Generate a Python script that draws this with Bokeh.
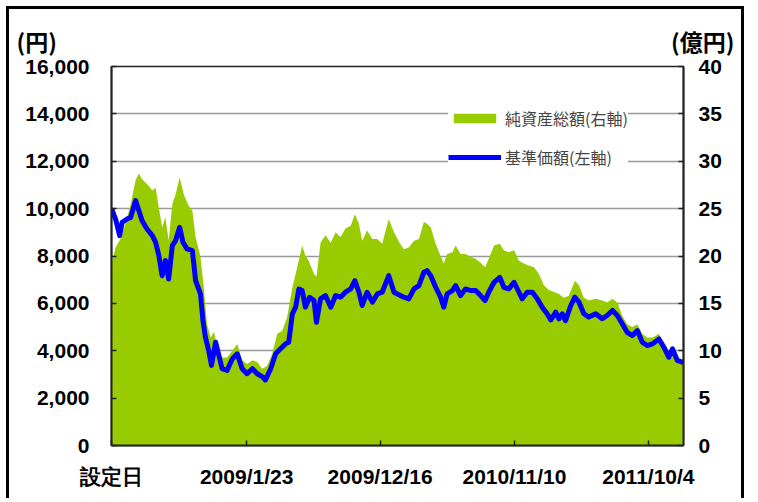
import pandas as pd
from bokeh.plotting import figure
from bokeh.models import (Range1d, LinearAxis, FixedTicker, NumeralTickFormatter,
                          Legend, LegendItem, Title)
from bokeh.embed import file_html
from bokeh.resources import INLINE

# ---------------- data ----------------
launch_date = "2008/2/27"
x_tick_dates = ["2009/1/23", "2009/12/16", "2010/11/10", "2011/10/4"]
launch_label = "設定日"
left_ticks = [0, 2000, 4000, 6000, 8000, 10000, 12000, 14000, 16000]
right_ticks = [0, 5, 10, 15, 20, 25, 30, 35, 40]

# 純資産総額 (億円), days since launch
aum_days = [0, 10, 22, 34, 47, 59, 67, 75, 87, 100, 108, 116, 124, 132, 140, 149, 157, 167, 177, 189,
            198, 206, 218, 226, 234, 243, 251, 259, 271, 283, 296, 308, 320, 332, 345, 357, 369, 381, 394, 406,
            418, 430, 443, 455, 467, 475, 483, 496, 502, 512, 524, 537, 549, 561, 573, 586, 596, 606, 614, 626,
            639, 651, 663, 679, 692, 704, 716, 728, 741, 753, 765, 773, 782, 794, 806, 814, 822, 835, 843, 855,
            867, 880, 892, 904, 915, 924, 937, 951, 961, 973, 986, 998, 1010, 1022, 1035, 1047, 1059, 1071, 1084, 1096,
            1108, 1120, 1135, 1145, 1157, 1169, 1186, 1202, 1214, 1227, 1239, 1251, 1263, 1276, 1288, 1300, 1312, 1325, 1341, 1353,
            1365, 1374, 1386, 1398, 1401]
aum_values = [19.2, 20.9, 21.8, 23.4, 25.5, 28.0, 28.7, 28.1, 27.6, 26.9, 27.2, 25.1, 23.0, 24.1, 21.6, 25.5, 26.5, 28.3, 26.5, 25.3,
              24.8, 22.0, 19.9, 16.7, 12.8, 11.4, 12.0, 10.4, 9.3, 9.3, 10.0, 10.7, 9.0, 8.6, 9.0, 8.8, 8.1, 8.4, 9.7, 11.8,
              12.1, 13.5, 16.7, 18.8, 21.1, 20.0, 19.5, 18.1, 17.8, 21.4, 22.2, 21.4, 22.5, 22.0, 22.9, 23.2, 24.4, 23.4, 21.6, 22.7,
              21.8, 21.8, 21.3, 23.9, 22.5, 21.5, 20.7, 20.9, 21.6, 21.8, 23.6, 23.4, 23.0, 21.3, 20.0, 19.2, 20.2, 20.4, 21.1, 20.2,
              20.2, 19.9, 19.7, 19.3, 18.8, 19.7, 21.1, 21.3, 20.6, 20.4, 20.6, 19.5, 19.2, 19.0, 18.8, 18.1, 16.9, 16.4, 16.2, 16.0,
              15.6, 15.8, 17.4, 16.9, 15.6, 15.3, 15.5, 15.3, 15.1, 15.5, 15.1, 13.7, 12.8, 12.5, 12.8, 11.8, 11.4, 11.4, 11.8, 10.5,
              9.8, 10.0, 9.2, 8.8, 8.7]

# 基準価額 (円), days since launch
nav_days = [0, 10, 20, 26, 38, 47, 59, 67, 75, 87, 100, 108, 116, 124, 132, 140, 149, 157, 167, 175,
            185, 198, 206, 218, 224, 230, 238, 245, 255, 263, 271, 283, 296, 308, 320, 332, 345, 357, 369, 377,
            390, 402, 414, 426, 434, 443, 451, 459, 467, 475, 485, 496, 502, 512, 524, 537, 549, 561, 573, 586,
            596, 606, 614, 626, 639, 651, 663, 679, 692, 704, 716, 728, 741, 753, 765, 773, 782, 794, 806, 814,
            822, 835, 843, 855, 867, 880, 892, 904, 915, 924, 937, 951, 961, 973, 986, 998, 1006, 1018, 1031, 1043,
            1055, 1067, 1076, 1088, 1096, 1104, 1112, 1125, 1135, 1145, 1157, 1169, 1186, 1202, 1214, 1227, 1239, 1251, 1263, 1276,
            1288, 1300, 1312, 1325, 1341, 1353, 1365, 1374, 1386, 1398, 1401]
nav_values = [10000, 9560, 8860, 9420, 9560, 9630, 10340, 9920, 9490, 9140, 8860, 8580, 8020, 7170, 7810, 7030, 8440, 8650, 9210, 8580,
              8300, 8230, 6960, 6400, 5270, 4570, 4010, 3380, 4360, 3800, 3240, 3170, 3660, 3870, 3240, 3030, 3240, 3030, 2910, 2770,
              3240, 3870, 4080, 4290, 4360, 5560, 5840, 6610, 6540, 5840, 6260, 6120, 5200, 6190, 6330, 5840, 6330, 6260, 6470, 6610,
              6960, 6470, 5910, 6470, 6050, 6400, 6470, 7170, 6470, 6360, 6260, 6190, 6610, 6750, 7310, 7380, 7170, 6680, 6260, 5840,
              6400, 6540, 6750, 6330, 6610, 6540, 6540, 6330, 6120, 6470, 6890, 7100, 6680, 6610, 6890, 6470, 6190, 6470, 6470, 6190,
              5840, 5560, 5300, 5630, 5350, 5560, 5270, 5910, 6260, 6050, 5560, 5420, 5560, 5350, 5490, 5700, 5490, 5140, 4780, 4640,
              4850, 4360, 4220, 4290, 4500, 4150, 3730, 4080, 3590, 3520, 3470]

aum_name = "純資産総額(右軸)"
nav_name = "基準価額(左軸)"
left_unit = "(円)"
right_unit = "(億円)"

# ---------------- styles ----------------
GREEN = "#99CC00"
BLUE = "#0000FF"
NUM_FONT = "Liberation Sans"
JP_FONT = "Noto Sans CJK JP"

launch = pd.Timestamp(launch_date)
tick_pos = [0] + [(pd.Timestamp(d) - launch).days for d in x_tick_dates]
tick_lbl = [launch_label] + x_tick_dates

p = figure(width=738, height=492, output_backend="svg", toolbar_location=None,
           x_range=Range1d(0, max(nav_days[-1], aum_days[-1])), y_range=Range1d(0, 16000),
           min_border_left=102, min_border_right=64, min_border_top=57, min_border_bottom=56)
p.styles = {"margin-left": "6px", "margin-top": "6px",
            "border-left": "3px solid black", "border-top": "3px solid black",
            "border-right": "3px solid black"}
p.extra_y_ranges = {"aum": Range1d(0, 40)}
p.background_fill_color = "white"
p.border_fill_color = "white"
p.outline_line_color = "#222222"
p.outline_line_width = 1.5

r_area = p.varea(x=aum_days, y1=[0] * len(aum_days), y2=aum_values, y_range_name="aum",
                 fill_color=GREEN, fill_alpha=1.0)
r_line = p.line(x=nav_days, y=nav_values, line_color=BLUE, line_width=5, line_join="round")

# axes
p.xaxis.ticker = FixedTicker(ticks=tick_pos)
p.xaxis.major_label_overrides = {t: l for t, l in zip(tick_pos, tick_lbl)}
p.yaxis.ticker = FixedTicker(ticks=left_ticks)
p.yaxis.formatter = NumeralTickFormatter(format="0,0")

ra = LinearAxis(y_range_name="aum", ticker=FixedTicker(ticks=right_ticks))
p.add_layout(ra, "right")

for ax in [p.xaxis[0], p.yaxis[0], ra]:
    ax.major_tick_in = 5
    ax.major_tick_out = 0
    ax.minor_tick_in = 0
    ax.minor_tick_out = 0
    ax.axis_line_color = "#222222"
    ax.axis_line_width = 2
    ax.major_tick_line_color = "#222222"
    ax.major_tick_line_width = 1.5
    ax.major_label_text_font = NUM_FONT
    ax.major_label_text_font_style = "bold"
    ax.major_label_text_font_size = "21px"
    ax.major_label_text_color = "black"
p.yaxis[0].major_label_standoff = 22
ra.major_label_standoff = 15
p.xaxis[0].major_label_standoff = 19

p.xgrid.grid_line_color = None
p.ygrid.grid_line_color = "#999999"
p.ygrid.grid_line_width = 1.5
p.ygrid.ticker = FixedTicker(ticks=left_ticks)

# unit captions above the plot area (left unit at far left, right unit over the right axis)
gap = "\u3000" * 26 + "\u2002\u2009"
p.add_layout(Title(text=left_unit + gap + right_unit, align="left", offset=-95, standoff=17,
                   text_font=JP_FONT, text_font_style="bold", text_font_size="23px",
                   text_color="black"), "above")

legend = Legend(items=[LegendItem(label=aum_name, renderers=[r_area]),
                       LegendItem(label=nav_name, renderers=[r_line])],
                location=(337, 276), orientation="vertical",
                glyph_width=53, glyph_height=12, label_text_font=JP_FONT,
                label_text_font_size="16px", label_standoff=4, spacing=15,
                padding=10, margin=0, background_fill_color="white", background_fill_alpha=1.0,
                border_line_color=None)
p.add_layout(legend)

open("out.html", "w").write(file_html(p, INLINE))
